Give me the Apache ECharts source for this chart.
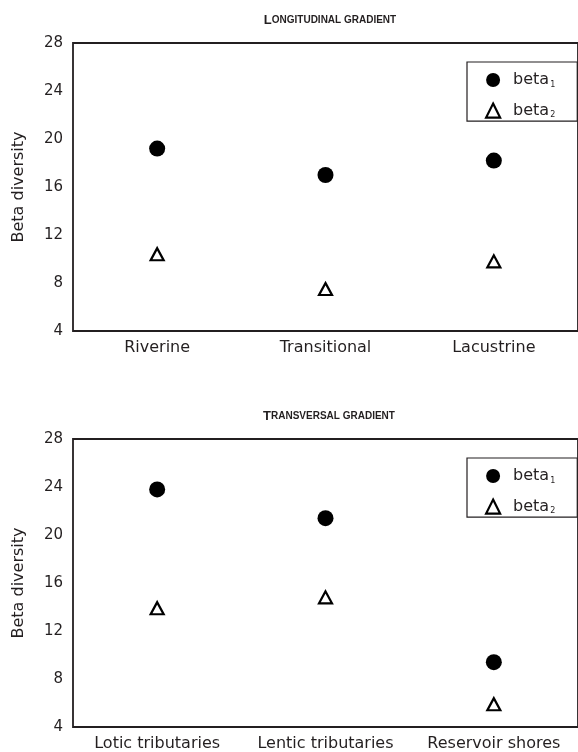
<!DOCTYPE html>
<html>
<head>
<meta charset="utf-8">
<script src="https://cdn.jsdelivr.net/npm/echarts@6/dist/echarts.min.js"></script>
<style>
  html, body { margin: 0; padding: 0; background: #fff; }
  #main { width: 578px; height: 752px; }
</style>
</head>
<body>
<div id="main"></div>
<script>
// data
const longCategories = ['Riverine', 'Transitional', 'Lacustrine'];
const longBeta1 = [19.2, 17.0, 18.2];
const longBeta2 = [10.4, 7.5, 9.8];

const transCategories = ['Lotic tributaries', 'Lentic tributaries', 'Reservoir shores'];
const transBeta1 = [23.8, 21.4, 9.4];
const transBeta2 = [13.9, 14.8, 5.9];

const yMin = 4, yMax = 28, yStep = 4;
const seriesNames = ['beta1', 'beta2'];

const ink = '#231f20';
const font = 'DejaVu Sans';
const chart = echarts.init(document.getElementById('main'));

function titleText(first, rest) {
  return '{b|' + first + '}{s|' + rest + '}';
}
const titleRich = {
  b: { fontFamily: 'Liberation Sans', fontSize: 13, color: ink },
  s: { fontFamily: 'Liberation Sans', fontSize: 10, color: ink }
};

function legendFor(top) {
  return {
    orient: 'vertical',
    left: 467,
    top: top,
    padding: [10, 22, 2, 18],
    itemGap: 14,
    itemWidth: 14,
    itemHeight: 14,
    borderColor: ink,
    borderWidth: 1.2,
    data: [
      { name: seriesNames[0], icon: 'circle' },
      { name: seriesNames[1], icon: 'triangle', itemStyle: { borderWidth: 2.2 } }
    ],
    formatter: n => '{t|beta}{s|' + n.slice(4) + '}',
    textStyle: {
      rich: {
        t: { fontFamily: font, fontSize: 16, color: ink, lineHeight: 16, padding: [0, 0, 0, 8] },
        s: { fontFamily: font, fontSize: 8, color: ink, padding: [9, 0, 0, 1] }
      }
    }
  };
}

function xAxisFor(idx, cats) {
  return {
    type: 'category',
    gridIndex: idx,
    data: cats,
    axisLine: { show: false },
    axisTick: { show: false },
    axisLabel: { interval: 0, fontFamily: font, fontSize: 16, color: ink, margin: 9 }
  };
}

function yAxisFor(idx) {
  return {
    type: 'value',
    gridIndex: idx,
    min: yMin,
    max: yMax,
    interval: yStep,
    name: 'Beta diversity',
    nameLocation: 'middle',
    nameGap: 46,
    nameTextStyle: { fontFamily: font, fontSize: 16, color: ink },
    axisLine: { show: false },
    axisTick: { show: false },
    splitLine: { show: false },
    axisLabel: { fontFamily: font, fontSize: 15, color: ink, margin: 10 }
  };
}

function pairSeries(idx, b1, b2) {
  return [
    {
      name: seriesNames[0],
      type: 'scatter',
      xAxisIndex: idx,
      yAxisIndex: idx,
      symbol: 'circle',
      symbolSize: 16,
      itemStyle: { color: '#000', opacity: 1 },
      data: b1
    },
    {
      name: seriesNames[1],
      type: 'scatter',
      xAxisIndex: idx,
      yAxisIndex: idx,
      symbol: 'triangle',
      symbolSize: [13, 12],
      itemStyle: { color: '#fff', borderColor: '#000', borderWidth: 2.2, opacity: 1 },
      data: b2
    }
  ];
}

const gridBase = { show: true, left: 73, width: 512, height: 288, borderColor: ink, borderWidth: 1.8, backgroundColor: 'transparent' };

chart.setOption({
  animation: false,
  title: [
    { text: titleText('L', 'ONGITUDINAL GRADIENT'), left: 325, top: 9, textAlign: 'center', textStyle: { rich: titleRich } },
    { text: titleText('T', 'RANSVERSAL GRADIENT'), left: 324, top: 405, textAlign: 'center', textStyle: { rich: titleRich } }
  ],
  legend: [legendFor(62), legendFor(458)],
  grid: [
    Object.assign({}, gridBase, { top: 43 }),
    Object.assign({}, gridBase, { top: 439 })
  ],
  xAxis: [xAxisFor(0, longCategories), xAxisFor(1, transCategories)],
  yAxis: [yAxisFor(0), yAxisFor(1)],
  series: pairSeries(0, longBeta1, longBeta2).concat(pairSeries(1, transBeta1, transBeta2))
});
</script>
</body>
</html>
